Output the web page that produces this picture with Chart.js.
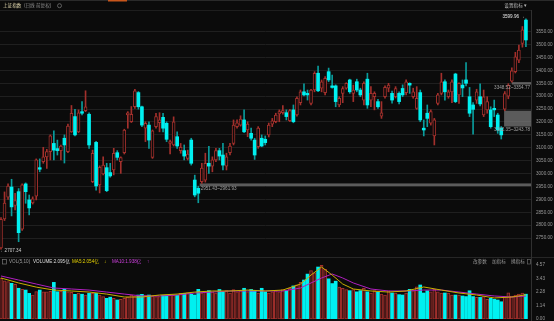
<!DOCTYPE html>
<html>
<head>
<meta charset="utf-8">
<script src="https://cdn.jsdelivr.net/npm/chart.js@4.4.1/dist/chart.umd.min.js"></script>
<style>
  html, body { margin: 0; padding: 0; background: #0b0b0b; overflow: hidden; }
  #wrap { position: relative; width: 554px; height: 321px; }
  canvas { position: absolute; left: 0; }
  #main { top: 0; }
  #vol { top: 257px; }
</style>
</head>
<body>
<div id="wrap">
  <canvas id="main" width="554" height="257"></canvas>
  <canvas id="vol" width="554" height="64"></canvas>
</div>
<script>
// Daily candles, oldest first.
const opens = [
  2712, 2824, 2909, 2948, 2877, 2930, 2785, 2960, 2898, 2886,
  2913, 3023, 3046, 3065, 3085, 3117, 3097, 3089, 3137, 3085,
  3162, 3221, 3162, 3240, 3244, 3230, 2969, 3121, 2956, 2999,
  3023, 3004, 3014, 3081, 3046, 3081, 3227, 3201, 3259, 3314,
  3259, 3176, 3188, 3063, 3182, 3197, 3218, 3195, 3117, 3111,
  3143, 3089, 3089, 3059, 3130, 2975, 2943, 2969, 2975, 3040,
  3029, 3053, 3089, 3072, 3029, 3081, 3117, 3182, 3188, 3208,
  3169, 3156, 3130, 3104, 3137, 3133, 3150, 3192, 3201, 3231,
  3236, 3236, 3205, 3247, 3227, 3275, 3317, 3311, 3272, 3324,
  3389, 3331, 3314, 3395, 3340, 3340, 3266, 3311, 3331, 3363,
  3311, 3356, 3324, 3285, 3366, 3285, 3298, 3279, 3223, 3298,
  3331, 3311, 3298, 3311, 3330, 3314, 3350, 3298, 3253, 3314,
  3176, 3234, 3195, 3146, 3272, 3311, 3356, 3298, 3317, 3386,
  3305, 3343, 3363, 3298, 3266, 3285, 3298, 3227, 3247, 3247,
  3253, 3227, 3176, 3250, 3300, 3358, 3395, 3440, 3505, 3595
];
const highs = [
  2830, 2929, 2960, 2978, 2924, 2942, 2960, 2964, 2917, 2910,
  3057, 3057, 3102, 3094, 3150, 3166, 3130, 3111, 3150, 3192,
  3264, 3249, 3247, 3279, 3321, 3236, 3091, 3125, 3030, 3065,
  3040, 3040, 3098, 3089, 3065, 3172, 3240, 3260, 3327, 3318,
  3262, 3201, 3201, 3169, 3234, 3236, 3234, 3201, 3130, 3220,
  3162, 3117, 3111, 3091, 3137, 2994, 2951.43, 3040, 3079, 3106,
  3065, 3098, 3098, 3117, 3079, 3117, 3208, 3208, 3224, 3247,
  3201, 3176, 3137, 3182, 3150, 3146, 3196, 3214, 3234, 3247,
  3264, 3247, 3249, 3266, 3298, 3324, 3348, 3324, 3327, 3395,
  3417, 3363, 3376, 3409, 3382, 3344, 3298, 3337, 3352, 3366,
  3343, 3366, 3331, 3356, 3389, 3337, 3317, 3288, 3279, 3340,
  3350, 3320, 3337, 3317, 3344, 3363, 3352, 3331, 3337, 3324,
  3208, 3266, 3247, 3214, 3311, 3389, 3363, 3324, 3363, 3389,
  3352, 3363, 3430, 3334, 3275, 3327, 3348, 3324, 3298, 3259,
  3285, 3234, 3182.35, 3318, 3348.52, 3410, 3470, 3498, 3570, 3599.96
];
const lows = [
  2707.34, 2818, 2900, 2836, 2859, 2736, 2780, 2885, 2840, 2882,
  2898, 3007, 3040, 3020, 3053, 3053, 3072, 3053, 3041, 3081,
  3160, 3146, 3159, 3227, 3240, 3098, 2965, 2936, 2925, 2995,
  2930, 2986, 2995, 3053, 3001, 3076, 3176, 3198, 3253, 3250,
  3182, 3124, 3098, 3059, 3176, 3162, 3162, 3124, 3076, 3107,
  3098, 3079, 3053, 3053, 3033, 2910, 2887, 2961.93, 2967, 3001,
  3007, 3046, 3053, 3014, 3014, 3072, 3111, 3176, 3184, 3159,
  3143, 3130, 3055, 3098, 3104, 3111, 3142, 3182, 3197, 3201,
  3230, 3208, 3201, 3197, 3223, 3266, 3301, 3285, 3266, 3317,
  3318, 3317, 3305, 3356, 3331, 3259, 3259, 3275, 3327, 3311,
  3279, 3317, 3298, 3266, 3253, 3259, 3247, 3253, 3214, 3292,
  3317, 3273, 3293, 3270, 3298, 3305, 3311, 3292, 3249, 3201,
  3146, 3182, 3188, 3111, 3266, 3305, 3285, 3292, 3275, 3275,
  3272, 3298, 3340, 3221, 3153, 3272, 3262, 3221, 3234, 3176,
  3221, 3156, 3134, 3243.78, 3290, 3354.77, 3390, 3430, 3490, 3492
];
const closes = [
  2823, 2886, 2952, 2871, 2895, 2771, 2956, 2930, 2867, 2902,
  3053, 3017, 3065, 3085, 3146, 3091, 3089, 3107, 3111, 3184,
  3234, 3150, 3236, 3234, 3259, 3111, 3079, 2952, 3024, 3033,
  2934, 2991, 3079, 3063, 3062, 3169, 3236, 3230, 3321, 3259,
  3188, 3195, 3130, 3166, 3221, 3208, 3176, 3133, 3124, 3201,
  3107, 3102, 3068, 3076, 3040, 2917, 2924, 3021, 3040, 3029,
  3053, 3089, 3068, 3033, 3065, 3107, 3188, 3197, 3211, 3162,
  3192, 3137, 3072, 3176, 3107, 3120, 3188, 3205, 3227, 3240,
  3244, 3221, 3244, 3201, 3292, 3317, 3305, 3305, 3324, 3389,
  3321, 3356, 3369, 3363, 3334, 3279, 3292, 3330, 3350, 3317,
  3324, 3324, 3305, 3350, 3266, 3311, 3311, 3259, 3236, 3334,
  3343, 3285, 3330, 3279, 3305, 3356, 3343, 3317, 3292, 3208,
  3169, 3214, 3240, 3208, 3305, 3356, 3317, 3317, 3356, 3279,
  3350, 3332, 3350, 3234, 3249, 3317, 3270, 3298, 3279, 3182,
  3247, 3169, 3150, 3310, 3342, 3398, 3453, 3479, 3557, 3518
];
// Volume in 亿
const volumes = [
  3.47, 3.24, 3.16, 3.02, 2.93, 2.60, 2.51, 2.45, 2.17, 2.03,
  2.31, 2.45, 2.30, 2.30, 2.35, 3.10, 2.31, 2.35, 2.51, 2.30,
  2.25, 2.09, 2.20, 2.10, 2.03, 2.17, 2.17, 2.17, 2.03, 1.90,
  1.75, 1.85, 1.75, 1.61, 1.67, 1.75, 1.85, 2.03, 1.95, 2.03,
  2.09, 2.03, 2.03, 1.95, 1.90, 1.90, 2.00, 2.00, 2.00, 2.00,
  2.00, 2.17, 2.17, 2.22, 2.09, 2.03, 2.51, 2.20, 2.30, 2.40,
  2.30, 2.20, 2.50, 2.30, 2.40, 2.20, 2.50, 2.30, 2.40, 2.60,
  2.30, 2.50, 2.40, 2.20, 2.60, 2.30, 2.20, 2.30, 2.40, 2.30,
  2.50, 2.40, 2.60, 2.80, 2.90, 3.10, 3.30, 3.80, 4.10, 3.90,
  4.40, 4.55, 4.20, 3.40, 3.00, 3.20, 2.70, 2.60, 2.50, 2.40,
  2.50, 2.30, 2.40, 2.60, 2.30, 2.20, 2.40, 2.30, 2.11, 2.03,
  2.39, 2.20, 2.20, 2.06, 2.03, 2.20, 2.51, 2.39, 2.73, 2.88,
  2.20, 2.39, 2.30, 2.51, 2.30, 2.20, 2.20, 2.20, 2.03, 2.03,
  2.03, 1.95, 1.90, 2.39, 1.90, 1.83, 1.83, 1.90, 1.67, 1.75,
  1.67, 1.61, 1.46, 1.90, 2.22, 1.95, 2.03, 2.10, 2.20, 2.10
];
// MA lines at these candle indexes
const maIdx = [0, 5, 10, 15, 20, 25, 30, 35, 40, 45, 50, 55, 60, 65, 70, 75, 80, 85, 88, 91, 94, 97, 100, 105, 110, 115, 120, 125, 130, 135, 140, 145, 149];
const ma5 =  [3.47, 3.05, 2.70, 2.45, 2.37, 2.28, 2.11, 1.86, 1.86, 2.03, 2.11, 2.28, 2.37, 2.37, 2.45, 2.37, 2.45, 2.96, 3.72, 4.40, 3.72, 2.96, 2.54, 2.37, 2.28, 2.37, 2.71, 2.45, 2.20, 2.03, 1.78, 1.86, 2.05];
const ma10 = [3.64, 3.30, 2.96, 2.62, 2.54, 2.45, 2.28, 2.11, 1.95, 1.95, 2.03, 2.20, 2.28, 2.37, 2.37, 2.37, 2.37, 2.62, 3.05, 3.47, 3.81, 3.47, 3.05, 2.54, 2.37, 2.37, 2.45, 2.45, 2.28, 2.11, 1.95, 1.86, 1.94];

const priceTicks = [2750, 2800, 2850, 2900, 2950, 3000, 3050, 3100, 3150, 3200, 3250, 3300, 3350, 3400, 3450, 3500, 3550];
const volTicks = [0, 1.14, 2.28, 3.43, 4.57];
// gap zones: [starting candle, low, high]
const gapZones = [[56.4, 2951.43, 2961.93], [142.8, 3182.35, 3243.78], [145, 3348.52, 3354.77]];
const volHeader = { vol: '2.095亿', ma5: '2.054亿', ma10: '1.938亿' };

const FONT = "'Liberation Sans', 'Noto Sans CJK SC', sans-serif";
const BG = '#0b0b0b';
const RED = '#a3302c';
const CYAN = '#00f0f0';
const CYAN_WICK = '#0a9c9c';
const GRID = '#1f1f1f';
const AXIS_TXT = '#9a9a9a';

const idx = opens.map((_, i) => i);
const up = idx.map(i => closes[i] >= opens[i]);

const xScale = { type: 'linear', min: -0.284, max: 150.44, display: false, offset: false };

function rightAxis(min, max, ticks, gridOn) {
  return {
    position: 'right', min, max,
    afterBuildTicks(s) { s.ticks = ticks.map(v => ({ value: v })); },
    afterFit(s) { s.width = 23; s.paddingTop = 0; s.paddingBottom = 0; },
    grid: { display: gridOn, color: GRID, drawTicks: false },
    border: { display: false },
    ticks: { color: AXIS_TXT, padding: 5, font: { size: 4.6, family: FONT }, callback: v => v.toFixed(2) },
  };
}

// gap boxes, range labels, high/low marks and the header row
const mainMarks = {
  id: 'mainMarks',
  beforeDatasetsDraw(chart) {
    const { ctx, chartArea, scales: { x, y } } = chart;
    ctx.save();
    ctx.fillStyle = 'rgba(140,140,140,0.62)';
    gapZones.forEach(([from, lo, hi]) => {
      const x0 = x.getPixelForValue(from);
      const y0 = y.getPixelForValue(hi);
      const y1 = y.getPixelForValue(lo);
      ctx.fillRect(x0, y0, chartArea.right - x0, Math.max(y1 - y0, 2.5));
    });
    ctx.restore();
  },
  afterDraw(chart) {
    const { ctx, chartArea, scales: { x, y } } = chart;
    ctx.save();
    ctx.font = `4.6px ${FONT}`;
    ctx.textBaseline = 'middle';

    gapZones.forEach(([from, lo, hi]) => {
      const text = `${lo.toFixed(2)}~${hi.toFixed(2)}`;
      const x0 = x.getPixelForValue(from);
      const yb = Math.max(y.getPixelForValue(lo), y.getPixelForValue(hi) + 2.5);
      const w = ctx.measureText(text).width;
      ctx.fillStyle = '#a0a0a0';
      if (x0 + 1 + w < chartArea.right) {
        ctx.textAlign = 'left';
        ctx.fillText(text, x0 + 1, yb + 3);
      } else {
        ctx.textAlign = 'right';
        ctx.fillText(text, chartArea.right - 1, yb + 3);
      }
    });

    // highest high / lowest low
    let hi = 0, lo = 0;
    idx.forEach(i => { if (highs[i] > highs[hi]) hi = i; if (lows[i] < lows[lo]) lo = i; });
    ctx.fillStyle = '#e6e6e6';
    ctx.textAlign = 'right';
    ctx.fillText(highs[hi].toFixed(2) + ' →', x.getPixelForValue(hi) - 1, y.getPixelForValue(highs[hi]) - 2);
    ctx.fillStyle = '#cfcfcf';
    ctx.textAlign = 'left';
    ctx.fillText('←' + lows[lo].toFixed(2), 0, y.getPixelForValue(lows[lo]) + 1.5);

    // header
    ctx.fillStyle = '#2a2a2a';
    ctx.fillRect(0, 0, 554, 1);
    ctx.fillStyle = '#c8561c';
    ctx.fillRect(108, 0, 19, 1.5);
    ctx.fillStyle = '#1e1e1e';
    ctx.fillRect(0, 10, chartArea.right, 1);
    ctx.fillStyle = '#303030';
    ctx.fillRect(chartArea.right, 10, 1, 247);

    ctx.fillStyle = '#e4dab0';
    ctx.fillText('上证指数', 3, 5.7);
    ctx.fillStyle = '#8c8c8c';
    ctx.fillText('(日线 前复权)', 24, 5.7);
    ctx.strokeStyle = '#808080';
    ctx.lineWidth = 0.7;
    ctx.beginPath();
    ctx.arc(59.5, 5.7, 2, 0, Math.PI * 2);
    ctx.stroke();
    ctx.fillStyle = '#bbbbbb';
    ctx.textAlign = 'right';
    ctx.fillText('设置指标 ▾', 527, 5.7);
    ctx.restore();
  },
};

const volMarks = {
  id: 'volMarks',
  afterDraw(chart) {
    const { ctx, chartArea } = chart;
    ctx.save();
    ctx.fillStyle = '#262626';
    ctx.fillRect(0, 0, 554, 1);
    ctx.fillStyle = '#303030';
    ctx.fillRect(chartArea.right, 0, 1, 64);

    ctx.font = `4.6px ${FONT}`;
    ctx.textBaseline = 'middle';
    ctx.textAlign = 'left';
    const ty = 4.7;
    ctx.strokeStyle = '#777';
    ctx.lineWidth = 0.7;
    ctx.strokeRect(2.5, 2.5, 4, 4.5);
    ctx.fillStyle = '#9a9a9a';
    ctx.fillText('VOL(5,10)', 9, ty);
    ctx.fillStyle = '#dddddd';
    ctx.fillText('VOLUME:' + volHeader.vol, 33, ty);
    ctx.fillText('↑', 67, ty);
    ctx.fillStyle = '#e6d200';
    ctx.fillText('MA5:' + volHeader.ma5, 72, ty);
    ctx.fillText('↓', 104, ty);
    ctx.fillStyle = '#d040e0';
    ctx.fillText('MA10:' + volHeader.ma10, 112, ty);
    ctx.fillText('↑', 147, ty);

    ctx.fillStyle = '#9a9a9a';
    ctx.fillText('改参数', 473, ty);
    ctx.fillText('加指标', 492, ty);
    ctx.fillText('换指标', 511, ty);
    ctx.strokeStyle = '#666';
    ctx.strokeRect(527.5, 2.5, 3, 4.5);
    ctx.restore();
  },
};

new Chart(document.getElementById('main'), {
  type: 'bar',
  data: {
    datasets: [
      {
        data: idx.map(i => ({ x: i, y: [opens[i], closes[i]] })),
        backgroundColor: up.map(u => (u ? BG : CYAN)),
        borderColor: up.map(u => (u ? RED : CYAN)),
        borderWidth: up.map(u => (u ? 1 : 0)),
        borderSkipped: false, barThickness: 3, minBarLength: 1, grouped: false, order: 0,
      },
      {
        data: idx.map(i => ({ x: i, y: [lows[i], highs[i]] })),
        backgroundColor: up.map(u => (u ? RED : CYAN_WICK)),
        borderWidth: 0, barThickness: 1, grouped: false, order: 1,
      },
    ],
  },
  options: {
    animation: false, responsive: false, devicePixelRatio: 1,
    layout: { padding: { top: 14, bottom: 2, left: 0, right: 0 } },
    plugins: { legend: { display: false }, tooltip: { enabled: false } },
    scales: { x: xScale, y: rightAxis(2684.5, 3618.6, priceTicks, true) },
  },
  plugins: [mainMarks],
});

new Chart(document.getElementById('vol'), {
  type: 'bar',
  data: {
    datasets: [
      { type: 'line', data: maIdx.map((i, k) => ({ x: i, y: ma5[k] })), borderColor: '#c8b000', borderWidth: 1, pointRadius: 0, order: 0 },
      { type: 'line', data: maIdx.map((i, k) => ({ x: i, y: ma10[k] })), borderColor: '#b020c0', borderWidth: 1, pointRadius: 0, order: 0 },
      {
        data: idx.map(i => ({ x: i, y: volumes[i] })),
        backgroundColor: up.map(u => (u ? '#3e1616' : CYAN)),
        borderColor: up.map(u => (u ? RED : CYAN)),
        borderWidth: up.map(u => (u ? 1 : 0)),
        borderSkipped: false, barThickness: 3, order: 1,
      },
    ],
  },
  options: {
    animation: false, responsive: false, devicePixelRatio: 1,
    layout: { padding: { top: 8, bottom: 2, left: 0, right: 0 } },
    plugins: { legend: { display: false }, tooltip: { enabled: false } },
    scales: { x: xScale, y: rightAxis(0, 4.57, volTicks, false) },
  },
  plugins: [volMarks],
});
</script>
</body>
</html>
